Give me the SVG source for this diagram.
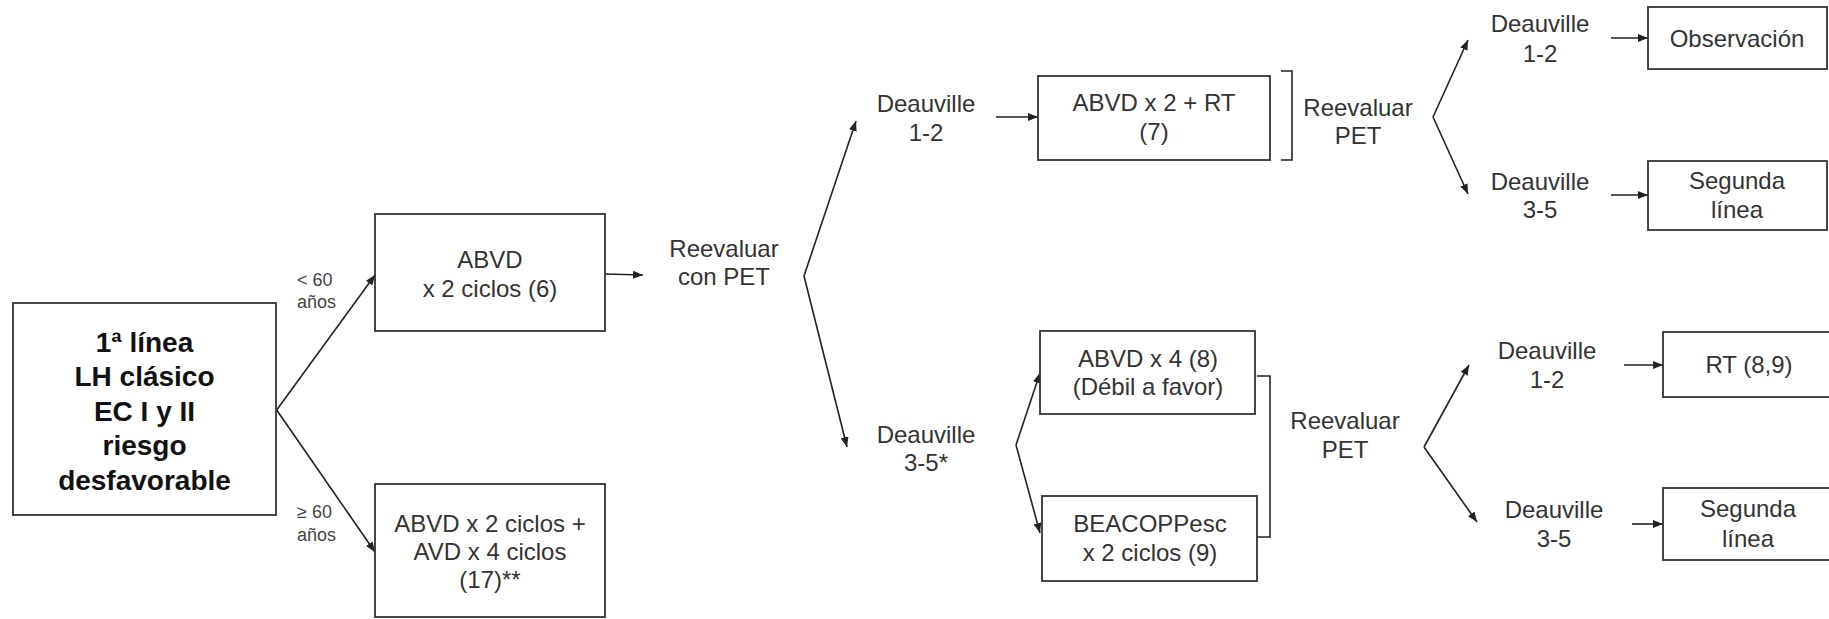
<svg xmlns="http://www.w3.org/2000/svg" width="1829" height="619" viewBox="0 0 1829 619">
<style>
.box{fill:#fff;stroke:#333;stroke-width:1.8}
.t{font-family:"Liberation Sans",Arial,sans-serif;font-size:24px;fill:#333;text-anchor:middle}
.b{font-family:"Liberation Sans",Arial,sans-serif;font-size:28px;font-weight:bold;fill:#111;text-anchor:middle}
.s{font-family:"Liberation Sans",Arial,sans-serif;font-size:18px;fill:#444;text-anchor:start}
.c{fill:none;stroke:#222;stroke-width:1.6}
.a{marker-end:url(#ah)}
</style>
<defs>
<marker id="ah" viewBox="0 0 10 8" refX="10" refY="4" markerWidth="10" markerHeight="8" markerUnits="userSpaceOnUse" orient="auto">
<path d="M0,0 L10,4 L0,8 z" fill="#222"/>
</marker>
</defs>
<rect x="0" y="0" width="1829" height="619" fill="#fff"/>
<g id="connectors">
<line class="c a" x1="276.7" y1="410" x2="375" y2="275"/>
<line class="c a" x1="276.7" y1="410" x2="375" y2="552"/>
<line class="c a" x1="605" y1="274" x2="643" y2="275"/>
<line class="c a" x1="804" y1="276" x2="856" y2="121"/>
<line class="c a" x1="804" y1="276" x2="847" y2="447"/>
<line class="c a" x1="996" y1="117" x2="1038" y2="117"/>
<path class="c" d="M1281,71 H1292 V160 H1281"/>
<line class="c a" x1="1433" y1="117" x2="1468" y2="40"/>
<line class="c a" x1="1433" y1="117" x2="1468" y2="194"/>
<line class="c a" x1="1611" y1="38" x2="1648" y2="38"/>
<line class="c a" x1="1611" y1="195" x2="1648" y2="195"/>
<line class="c a" x1="1016" y1="445" x2="1040" y2="373"/>
<line class="c a" x1="1016" y1="445" x2="1040" y2="533"/>
<path class="c" d="M1257,376 H1270 V537 H1257"/>
<line class="c a" x1="1424" y1="447" x2="1469" y2="365"/>
<line class="c a" x1="1424" y1="447" x2="1477" y2="522"/>
<line class="c a" x1="1624" y1="365" x2="1663" y2="365"/>
<line class="c a" x1="1632" y1="524" x2="1663" y2="524"/>
</g>
<g id="n-start">
<rect class="box" x="13" y="303" width="263" height="212"/>
<text class="b" x="144.5" y="352">1ª línea</text>
<text class="b" x="144.5" y="386">LH clásico</text>
<text class="b" x="144.5" y="421">EC I y II</text>
<text class="b" x="144.5" y="455">riesgo</text>
<text class="b" x="144.5" y="490">desfavorable</text>
</g>
<g id="lbl-young">
<text class="s" x="297" y="286">&lt; 60</text>
<text class="s" x="297" y="308">años</text>
</g>
<g id="lbl-old">
<text class="s" x="297" y="518">≥ 60</text>
<text class="s" x="297" y="541">años</text>
</g>
<g id="n-abvd2">
<rect class="box" x="375" y="214" width="230" height="117"/>
<text class="t" x="490" y="268">ABVD</text>
<text class="t" x="490" y="297">x 2 ciclos (6)</text>
</g>
<g id="n-elderly">
<rect class="box" x="375" y="484" width="230" height="133"/>
<text class="t" x="490" y="532">ABVD x 2 ciclos +</text>
<text class="t" x="490" y="560">AVD x 4 ciclos</text>
<text class="t" x="490" y="588">(17)**</text>
</g>
<g id="n-reeval1">
<text class="t" x="724" y="257">Reevaluar</text>
<text class="t" x="724" y="285">con PET</text>
</g>
<g id="n-d12a">
<text class="t" x="926" y="112">Deauville</text>
<text class="t" x="926" y="141">1-2</text>
</g>
<g id="n-d35a">
<text class="t" x="926" y="443">Deauville</text>
<text class="t" x="926" y="471">3-5*</text>
</g>
<g id="n-abvdrt">
<rect class="box" x="1038" y="76" width="232" height="84"/>
<text class="t" x="1154" y="111">ABVD x 2 + RT</text>
<text class="t" x="1154" y="140">(7)</text>
</g>
<g id="n-abvd4">
<rect class="box" x="1040" y="331" width="215" height="83"/>
<text class="t" x="1148" y="367">ABVD x 4 (8)</text>
<text class="t" x="1148" y="395">(Débil a favor)</text>
</g>
<g id="n-beacopp">
<rect class="box" x="1042" y="496" width="215" height="85"/>
<text class="t" x="1150" y="532">BEACOPPesc</text>
<text class="t" x="1150" y="561">x 2 ciclos (9)</text>
</g>
<g id="n-reeval2">
<text class="t" x="1358" y="116">Reevaluar</text>
<text class="t" x="1358" y="144">PET</text>
</g>
<g id="n-reeval3">
<text class="t" x="1345" y="429">Reevaluar</text>
<text class="t" x="1345" y="458">PET</text>
</g>
<g id="n-d12b">
<text class="t" x="1540" y="32">Deauville</text>
<text class="t" x="1540" y="62">1-2</text>
</g>
<g id="n-d35b">
<text class="t" x="1540" y="190">Deauville</text>
<text class="t" x="1540" y="218">3-5</text>
</g>
<g id="n-obs">
<rect class="box" x="1648" y="7" width="179" height="62"/>
<text class="t" x="1737" y="47">Observación</text>
</g>
<g id="n-seg1">
<rect class="box" x="1648" y="161" width="179" height="69"/>
<text class="t" x="1737" y="189">Segunda</text>
<text class="t" x="1737" y="218">línea</text>
</g>
<g id="n-d12c">
<text class="t" x="1547" y="359">Deauville</text>
<text class="t" x="1547" y="388">1-2</text>
</g>
<g id="n-d35c">
<text class="t" x="1554" y="518">Deauville</text>
<text class="t" x="1554" y="547">3-5</text>
</g>
<g id="n-rt">
<rect class="box" x="1663" y="332" width="172" height="65"/>
<text class="t" x="1749" y="373">RT (8,9)</text>
</g>
<g id="n-seg2">
<rect class="box" x="1663" y="488" width="172" height="72"/>
<text class="t" x="1748" y="517">Segunda</text>
<text class="t" x="1748" y="547">línea</text>
</g>
</svg>
